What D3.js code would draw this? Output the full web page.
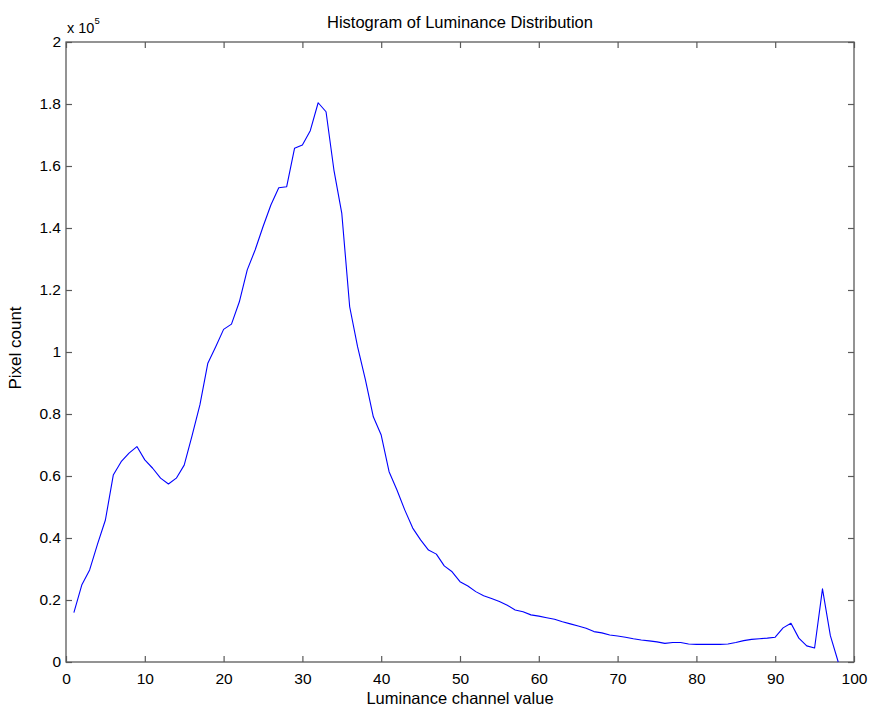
<!DOCTYPE html>
<html>
<head>
<meta charset="utf-8">
<script src="https://cdn.jsdelivr.net/npm/d3@7"></script>
<style>
  body { margin: 0; background: #fff; }
  text { font-family: "Liberation Sans", Arial, sans-serif; fill: #000; }
</style>
</head>
<body>
<svg id="chart"></svg>
<script>
// luminance bins 1..98, pixel counts in units of 1e5
const bins = d3.range(1, 99);
const counts = [
  0.159, 0.248, 0.297, 0.38, 0.458, 0.603, 0.646, 0.674, 0.695, 0.652,
  0.625, 0.593, 0.574, 0.593, 0.635, 0.73, 0.83, 0.964, 1.017, 1.073,
  1.09, 1.162, 1.265, 1.329, 1.404, 1.474, 1.53, 1.533, 1.657, 1.668,
  1.714, 1.804, 1.775, 1.587, 1.447, 1.146, 1.017, 0.91, 0.791, 0.732,
  0.614, 0.555, 0.49, 0.432, 0.394, 0.361, 0.348, 0.31, 0.291, 0.259,
  0.245, 0.227, 0.214, 0.205, 0.195, 0.183, 0.168, 0.162, 0.152, 0.148,
  0.143, 0.138, 0.13, 0.123, 0.116, 0.109, 0.098, 0.094, 0.087, 0.084,
  0.08, 0.075, 0.071, 0.068, 0.065, 0.06, 0.063, 0.063, 0.058, 0.057,
  0.057, 0.057, 0.057, 0.058, 0.063, 0.069, 0.073, 0.075, 0.077, 0.08,
  0.11, 0.125, 0.077, 0.052, 0.045, 0.236, 0.085, 0.0
];
const xTicks = [0, 10, 20, 30, 40, 50, 60, 70, 80, 90, 100];
const yTicks = [0, 0.2, 0.4, 0.6, 0.8, 1, 1.2, 1.4, 1.6, 1.8, 2];
const yTickLabels = ["0", "0.2", "0.4", "0.6", "0.8", "1", "1.2", "1.4", "1.6", "1.8", "2"];

const W = 872, H = 706;
const margin = {top: 42, right: 18, bottom: 44, left: 66};
const width = W - margin.left - margin.right;
const height = H - margin.top - margin.bottom;

const svg = d3.select("#chart").attr("width", W).attr("height", H);
const g = svg.append("g").attr("transform", "translate(" + margin.left + "," + margin.top + ")");

const xScale = d3.scaleLinear().domain([0, 100]).range([0, width]);
const yScale = d3.scaleLinear().domain([0, 2]).range([height, 0]);

const axisColor = "#5a5a5a";
const tickLen = 6;
const tickFont = 15.5;

function styleAxis(sel) {
  sel.select(".domain").remove();
  sel.selectAll(".tick line").attr("stroke", axisColor).attr("stroke-width", 1.2);
  sel.selectAll(".tick text").attr("font-size", tickFont).attr("fill", "#000");
}

// bottom
g.append("g")
  .attr("transform", "translate(0," + height + ")")
  .call(d3.axisBottom(xScale).tickValues(xTicks).tickSize(-tickLen).tickPadding(11))
  .call(styleAxis);
// top
g.append("g")
  .call(d3.axisTop(xScale).tickValues(xTicks).tickSize(-tickLen).tickFormat(""))
  .call(styleAxis);
// left
g.append("g")
  .call(d3.axisLeft(yScale).tickValues(yTicks).tickSize(-tickLen).tickPadding(5)
    .tickFormat((d, i) => yTickLabels[i]))
  .call(styleAxis);
// right
g.append("g")
  .attr("transform", "translate(" + width + ",0)")
  .call(d3.axisRight(yScale).tickValues(yTicks).tickSize(-tickLen).tickFormat(""))
  .call(styleAxis);

// box
g.append("rect")
  .attr("x", 0).attr("y", 0)
  .attr("width", width).attr("height", height)
  .attr("fill", "none")
  .attr("stroke", axisColor)
  .attr("stroke-width", 1.3);

// curve
const line = d3.line()
  .x((d, i) => xScale(bins[i]))
  .y(d => yScale(d));

g.append("path")
  .datum(counts)
  .attr("d", line)
  .attr("fill", "none")
  .attr("stroke", "#0000ff")
  .attr("stroke-width", 1.1)
  .attr("stroke-linejoin", "round");

// exponent label
const expo = svg.append("text")
  .attr("x", margin.left + 1)
  .attr("y", 33)
  .attr("font-size", 14.5);
expo.append("tspan").text("x 10");
expo.append("tspan").attr("dy", -9).attr("font-size", 9.5).text("5");

// title
svg.append("text")
  .attr("x", margin.left + width / 2)
  .attr("y", 28)
  .attr("text-anchor", "middle")
  .attr("font-size", 16.5)
  .text("Histogram of Luminance Distribution");

// x label
svg.append("text")
  .attr("x", margin.left + width / 2)
  .attr("y", 704)
  .attr("text-anchor", "middle")
  .attr("font-size", 16.5)
  .text("Luminance channel value");

// y label
svg.append("text")
  .attr("transform", "translate(21,348) rotate(-90)")
  .attr("text-anchor", "middle")
  .attr("font-size", 17)
  .text("Pixel count");
</script>
</body>
</html>
